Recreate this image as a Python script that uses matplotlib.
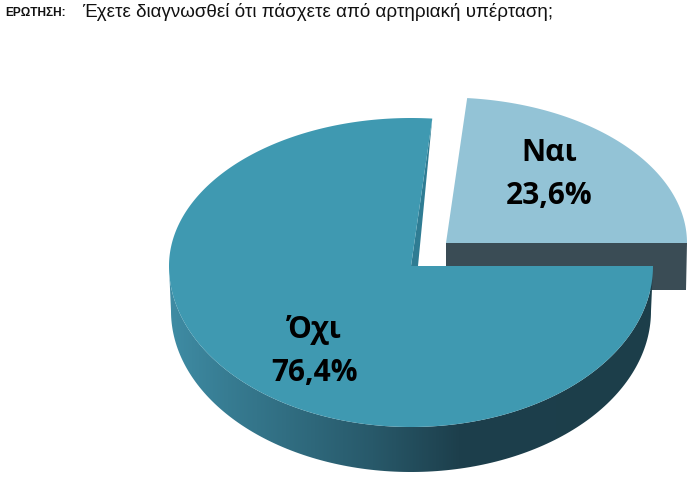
import matplotlib
matplotlib.use("Agg")
import matplotlib.pyplot as plt
from matplotlib.colors import LinearSegmentedColormap
from matplotlib.patches import Polygon
import numpy as np

labels = ["Ναι", "Όχι"]
values = [23.6, 76.4]
value_text = ["23,6%", "76,4%"]

question_tag = "ΕΡΩΤΗΣΗ:"
question = "Έχετε διαγνωσθεί ότι πάσχετε από αρτηριακή υπέρταση;"

# geometry in image pixels
cx, cy = 411, 266
rx, ry_up, ry_down = 242, 148, 161
depth = 45
shift = (35, -23)  # exploded slice

main_col = "#3f99b1"
yes_col = "#93c3d6"
yes_side = "#3a4c55"
cut_col = "#2f7c93"


def rim(t, dx=0, dy=0, shrink=0, top=ry_up):
    # points on the tilted pie edge, t in degrees
    t = np.radians(t)
    s = np.sin(t)
    ry = np.where(s > 0, top, ry_down)
    return np.column_stack([cx + dx + (rx - shrink) * np.cos(t), cy + dy - ry * s])


fig = plt.figure(figsize=(6.93, 4.79), dpi=100)
ax = fig.add_axes([0, 0, 1, 1])
ax.axis("off")

split = 360 * values[0] / 100

# small slice
dx, dy = shift
apex = np.array([cx + dx, cy + dy])
yes_rim = rim(np.linspace(0, split, 80), dx, dy, shrink=1, top=145.5)
right_end = yes_rim[0]
ax.add_patch(Polygon([apex, right_end, right_end + (-1, depth + 2), apex + (0, depth + 2)],
                     fc=yes_side, ec="none", zorder=1))
ax.add_patch(Polygon(np.vstack([apex, yes_rim]), fc=yes_col, ec="none", zorder=2))

# side of the big slice, shaded left to right
low = np.linspace(180, 360, 160)
side = np.vstack([rim(low), rim(low[::-1], dy=depth, shrink=2)])
side_patch = Polygon(side, fc="none", ec="none", transform=ax.transData)
ax.add_patch(side_patch)
cmap = LinearSegmentedColormap.from_list("side", [(0, "#3f8ca4"), (0.12, "#377c92"), (0.42, "#28596a"),
                                                  (0.6, "#1d3f4c"), (1, "#1c3e4a")])
im = ax.imshow(np.linspace(0, 1, 256)[None, :], cmap=cmap, aspect="auto", zorder=3,
               extent=(cx - rx, cx + rx, cy + ry_down + depth, cy))
im.set_clip_path(side_patch)

# cut face and top of the big slice
main_rim = rim(np.linspace(split, 360, 300))
ax.add_patch(Polygon([main_rim[0], (cx, cy), (cx + 7, cy)], fc=cut_col, ec="none", zorder=4))
ax.add_patch(Polygon(np.vstack([[cx, cy], main_rim]), fc=main_col, ec="none", zorder=5))

ax.set_xlim(0, 693)
ax.set_ylim(479, 0)

label_font = dict(family="Open Sans", fontweight="bold", fontsize=21.5, color="#000000",
                  ha="center", va="center", zorder=6)
ax.text(549, 153, labels[0], **label_font)
ax.text(549, 196, value_text[0], **label_font)
ax.text(314, 330, labels[1], **label_font)
ax.text(314, 373, value_text[1], **label_font)

ax.text(5, 16, question_tag, family="Liberation Sans", fontweight="bold", fontsize=8.6,
        color="#111111", va="baseline")
ax.text(82, 17, question, family="Liberation Sans", fontsize=13.5, color="#111111", va="baseline")

fig.savefig("out.png", dpi=100)
